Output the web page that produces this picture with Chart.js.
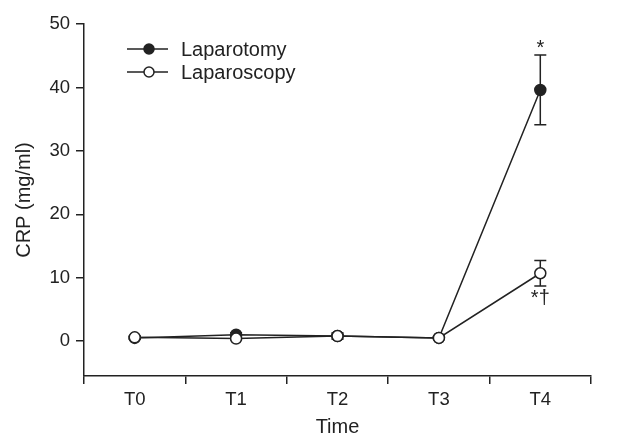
<!DOCTYPE html>
<html>
<head>
<meta charset="utf-8">
<script src="https://cdn.jsdelivr.net/npm/chart.js@4"></script>
<style>
  html, body { margin: 0; padding: 0; background: #fff; }
  #wrap { width: 632px; height: 439px; }
</style>
</head>
<body>
<div id="wrap"><canvas id="crp"></canvas></div>
<script>
// data
var times = ['T0', 'T1', 'T2', 'T3', 'T4'];
var laparotomy = [0.5, 1.0, 0.8, 0.5, 39.6];
var laparotomyErr = [0.2, 0.3, 0.3, 0.2, 5.5];
var laparoscopy = [0.6, 0.4, 0.8, 0.5, 10.7];
var laparoscopyErr = [0.2, 0.2, 0.5, 0.2, 2.0];
var yTicks = [0, 10, 20, 30, 40, 50];
var marks = ['*', '*\u2020'];

var ink = '#222';
var fontFam = '"Liberation Sans", Arial, Helvetica, sans-serif';

// error bars, drawn under the markers
var errorBars = {
    id: 'errorBars',
    beforeDatasetsDraw: function (chart) {
        var ctx = chart.ctx;
        var y = chart.scales.y;
        ctx.save();
        ctx.strokeStyle = ink;
        ctx.lineWidth = 1.5;
        chart.data.datasets.forEach(function (ds, i) {
            var meta = chart.getDatasetMeta(i);
            meta.data.forEach(function (pt, j) {
                var v = ds.data[j], e = ds.err[j];
                var top = y.getPixelForValue(v + e);
                var bot = y.getPixelForValue(v - e);
                ctx.beginPath();
                ctx.moveTo(pt.x, top); ctx.lineTo(pt.x, bot);
                ctx.moveTo(pt.x - 6, top); ctx.lineTo(pt.x + 6, top);
                ctx.moveTo(pt.x - 6, bot); ctx.lineTo(pt.x + 6, bot);
                ctx.stroke();
            });
        });
        ctx.restore();
    }
};

// significance marks at T4 and the legend
var extras = {
    id: 'extras',
    afterDraw: function (chart) {
        var ctx = chart.ctx;
        var y = chart.scales.y;
        var last = times.length - 1;
        ctx.save();
        ctx.fillStyle = ink;
        ctx.font = '20px ' + fontFam;
        ctx.textAlign = 'center';

        var p0 = chart.getDatasetMeta(0).data[last];
        ctx.textBaseline = 'bottom';
        ctx.fillText(marks[0], p0.x, y.getPixelForValue(laparotomy[last] + laparotomyErr[last]) + 3);

        var p1 = chart.getDatasetMeta(1).data[last];
        ctx.textBaseline = 'top';
        ctx.fillText(marks[1], p1.x, y.getPixelForValue(laparoscopy[last] - laparoscopyErr[last]) + 3);

        // legend
        var rows = [['Laparotomy', ink], ['Laparoscopy', '#fff']];
        ctx.textAlign = 'left';
        ctx.textBaseline = 'middle';
        ctx.font = '20px ' + fontFam;
        rows.forEach(function (r, k) {
            var ly = 49 + k * 23;
            ctx.strokeStyle = ink;
            ctx.lineWidth = 1.5;
            ctx.beginPath();
            ctx.moveTo(127, ly); ctx.lineTo(168, ly);
            ctx.stroke();
            ctx.beginPath();
            ctx.arc(149, ly, 5, 0, Math.PI * 2);
            ctx.fillStyle = r[1];
            ctx.fill();
            ctx.stroke();
            ctx.fillStyle = ink;
            ctx.fillText(r[0], 181, ly + 1);
        });
        ctx.restore();
    }
};

new Chart(document.getElementById('crp'), {
    type: 'line',
    data: {
        labels: times,
        datasets: [{
            label: 'Laparotomy',
            data: laparotomy,
            err: laparotomyErr,
            borderColor: ink,
            borderWidth: 1.5,
            pointRadius: 5.5,
            pointBackgroundColor: ink,
            pointBorderColor: ink,
            pointBorderWidth: 1.5,
            tension: 0,
            order: 1
        }, {
            label: 'Laparoscopy',
            data: laparoscopy,
            err: laparoscopyErr,
            borderColor: ink,
            borderWidth: 1.5,
            pointRadius: 5.5,
            pointBackgroundColor: '#fff',
            pointBorderColor: ink,
            pointBorderWidth: 1.5,
            tension: 0,
            order: 0
        }]
    },
    options: {
        responsive: true,
        maintainAspectRatio: false,
        animation: false,
        layout: { padding: { left: 0, right: 41, top: 24, bottom: 0 } },
        plugins: {
            legend: { display: false },
            tooltip: { enabled: false }
        },
        scales: {
            x: {
                offset: true,
                grid: { offset: true, drawOnChartArea: false, drawTicks: true, tickLength: 8, color: ink, lineWidth: 1.5 },
                border: { display: true, color: ink, width: 1.5 },
                ticks: { color: ink, font: { size: 18.5, family: fontFam }, padding: 5, maxRotation: 0 },
                title: { display: true, text: 'Time', color: ink, font: { size: 20, family: fontFam }, padding: { top: 0, bottom: 0 } },
                afterFit: function (s) { s.height = 63; }
            },
            y: {
                min: -5.5,
                max: 50,
                afterBuildTicks: function (s) {
                    s.ticks = yTicks.map(function (v) { return { value: v }; });
                },
                grid: { drawOnChartArea: false, drawTicks: true, tickLength: 8, color: ink, lineWidth: 1.5 },
                border: { display: true, color: ink, width: 1.5 },
                ticks: { color: ink, font: { size: 18.5, family: fontFam }, padding: 6 },
                title: { display: true, text: 'CRP (mg/ml)', color: ink, font: { size: 20, family: fontFam }, padding: { top: 12, bottom: 0 } },
                afterFit: function (s) { s.width = 84; }
            }
        }
    },
    plugins: [errorBars, extras]
});
</script>
</body>
</html>
